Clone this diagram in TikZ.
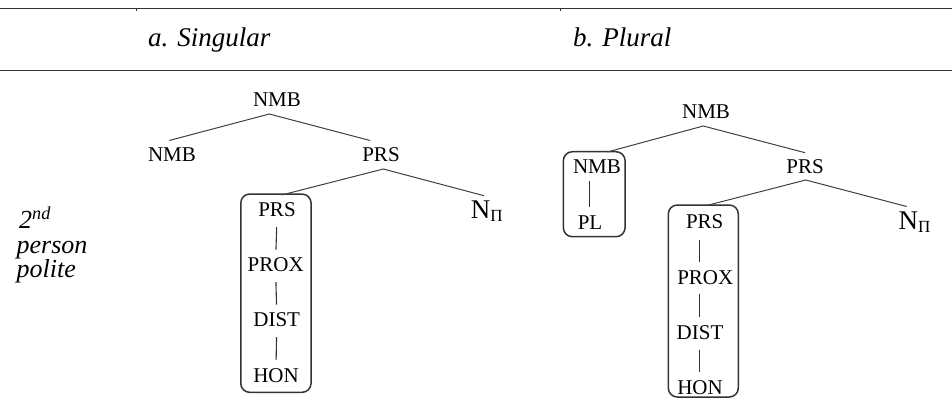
\documentclass[tikz,border=0pt]{standalone}
\usepackage{fontspec}
\setmainfont{Liberation Serif}
\begin{document}
\begin{tikzpicture}[x=1pt,y=-1pt,
  lbl/.style={inner sep=0pt, anchor=base, font=\fontsize{21}{21}\selectfont},
  npi/.style={inner sep=0pt, anchor=base west, font=\fontsize{27}{27}\selectfont},
  head/.style={inner sep=0pt, anchor=base west, font=\fontsize{27}{27}\selectfont\itshape},
  side/.style={inner sep=0pt, anchor=base west, font=\fontsize{26}{26}\selectfont\itshape},
  edge/.style={draw=black!75, line width=1pt},
  chain/.style={draw=black!80, line width=1.1pt, shorten <=10pt, shorten >=8pt},
  grp/.style={draw=black!80, line width=1.5pt, rounded corners=9pt, inner sep=0pt},
  rulel/.style={draw=black!80, line width=1pt}]
\useasboundingbox (0,0) rectangle (952,398);
% table rules
\draw[rulel] (0,8.5) -- (952,8.5);
\draw[rulel, line width=1.3pt] (0,70.3) -- (952,70.3);
\draw[draw=black!80, line width=0.8pt] (136.7,8.5) -- (136.7,11.5);
\draw[draw=black!80, line width=0.8pt] (560.7,8.5) -- (560.7,11.5);
% headers
\node[head] (hA) at (148,46.7) {a. Singular};
\node[head] (hB) at (573,46.7) {b. Plural};
% side label
\node[side, text depth=0pt] (side1) at (19,228.5) {2\textsuperscript{nd}};
\node[side, text height=11pt, text depth=5pt] (side2) at (16.5,253) {person};
\node[side] (side3) at (16.5,277.5) {polite};

% ---------- tree a ----------
\node[lbl] (aNMB)  at (277,106.7) {NMB};
\node[lbl] (aNMB2) at (172,161.7) {NMB};
\node[lbl] (aPRS)  at (381,161.7) {PRS};
\node[lbl] (aPRS2) at (277,216.7) {PRS};
\node[lbl] (aPROX) at (275.7,271.7) {PROX};
\node[lbl] (aDIST) at (276.7,326.7) {DIST};
\node[lbl] (aHON)  at (276,382.3) {HON};
\node[npi] (aN) at (470.7,218.3) {N\raisebox{-3.5pt}{\fontsize{17}{17}\selectfont Π}};
\node[grp, minimum width=70.3pt, minimum height=198.3pt] (aBox) at (275.9,293.2) {};

\coordinate (aTop) at (269.3,114);
\coordinate (aL)   at (169.3,140.5);
\coordinate (aR)   at (370,140.5);
\coordinate (aMid) at (383.3,169);
\coordinate (aBL)  at (281.7,195);
\coordinate (aNR)  at (484,195.7);
\draw[edge] (aL) -- (aTop) -- (aR);
\draw[edge] (aBL) -- (aMid) -- (aNR);
\draw[chain] (aPRS2.south) -- (aPROX.north);
\draw[chain] (aPROX.south) -- (aDIST.north);
\draw[chain] (aDIST.south) -- (aHON.north);

% ---------- tree b ----------
\node[lbl] (bNMB)  at (706,119) {NMB};
\node[lbl] (bNMB2) at (597,174) {NMB};
\node[lbl] (bPL)   at (590,229) {PL};
\node[lbl] (bPRS)  at (805,173.3) {PRS};
\node[lbl] (bPRS2) at (704.7,228.3) {PRS};
\node[lbl] (bPROX) at (705.3,284) {PROX};
\node[lbl] (bDIST) at (700,339.3) {DIST};
\node[lbl] (bHON)  at (700,394) {HON};
\node[npi] (bN) at (898.3,229.3) {N\raisebox{-3.5pt}{\fontsize{17}{17}\selectfont Π}};
\node[grp, minimum width=61.7pt, minimum height=85pt] (bBox1) at (594.2,194.2) {};
\node[grp, minimum width=70pt, minimum height=192pt] (bBox2) at (703.3,301) {};

\coordinate (bTop) at (703.3,126);
\coordinate (bL)   at (607.3,152);
\coordinate (bR)   at (805,152.7);
\coordinate (bMid) at (805.7,180);
\coordinate (bBL)  at (706.7,205.5);
\coordinate (bNR)  at (906.7,206.5);
\draw[edge] (bL) -- (bTop) -- (bR);
\draw[edge] (bBL) -- (bMid) -- (bNR);
\draw[chain, shorten <=7pt, shorten >=8.4pt] (bNMB2.south -| 589.3,0) -- (bPL.north -| 589.3,0);
\draw[chain, shorten <=11pt] (bPRS2.south -| 699.3,0) -- (bPROX.north -| 699.3,0);
\draw[chain] (bPROX.south -| 699.3,0) -- (bDIST.north -| 699.3,0);
\draw[chain, shorten >=7.4pt] (bDIST.south -| 699.3,0) -- (bHON.north -| 699.3,0);
\end{tikzpicture}
\end{document}
